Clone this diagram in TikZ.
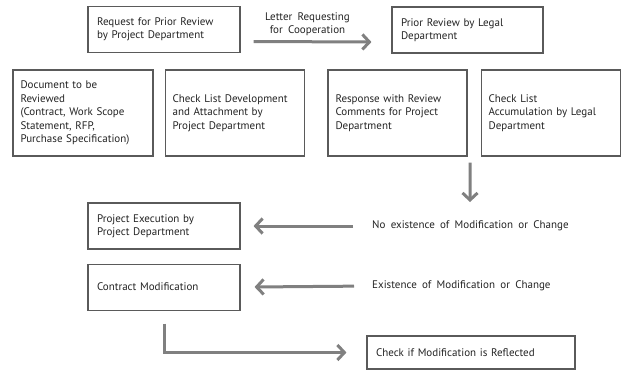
\documentclass[tikz,border=0pt]{standalone}
\usepackage{fontspec}
\setmainfont{PT Sans}[WordSpace=1.8]
\usetikzlibrary{arrows.meta,positioning}
\definecolor{boxline}{RGB}{90,90,90}
\definecolor{arrowgray}{RGB}{128,128,128}
\definecolor{txtdark}{RGB}{35,35,35}
\newcommand{\flowfont}{\fontsize{11}{13.4}\selectfont\hyphenpenalty=10000}
\tikzset{
  basebox/.style={rectangle,draw=boxline,line width=1.1pt,align=left,text=txtdark,
                  font=\flowfont,inner xsep=9pt,inner ysep=3pt},
  procbox/.style={basebox,minimum width=152pt,minimum height=46pt,text width=134pt},
  tallbox/.style={basebox,minimum width=139pt,minimum height=86pt,inner xsep=7.5pt,text width=124pt},
  condtext/.style={font=\flowfont,text=txtdark,inner sep=0pt,align=center},
  flowarr/.style={-{Straight Barb[length=7pt,width=15pt]},line width=3pt,color=arrowgray}
}

\begin{document}
\begin{tikzpicture}[x=1pt,y=-1pt]
  \useasboundingbox (0,0) rectangle (621,370);

  % top row
  \node[procbox] (req) at (164,29.5) {Request for Prior Review\\by Project Department};
  \node[procbox,minimum width=151pt,text width=133pt] (legal) at (467.5,30) {Prior Review by Legal\\Department};
  \node[condtext] (letter) at (307.5,24) {Letter Requesting\\for Cooperation};

  % second row
  \node[tallbox,minimum width=140pt,text width=125pt] (doc) at (83,113)
      {Document to be\\Reviewed\\(Contract, Work Scope\\Statement, RFP,\\Purchase Specification)};
  \node[tallbox,right=11pt of doc] (chk) {Check List Development\\and Attachment by\\Project Department};
  \node[tallbox] (resp) at (397.5,113) {Response with Review\\Comments for Project\\Department};
  \node[tallbox,right=13pt of resp] (accum) {Check List\\Accumulation by Legal\\Department};
  \coordinate (split) at (470,202);

  % decision rows
  \node[procbox] (exec) at (164,226) {Project Execution by\\Project Department};
  \node[procbox,below=14pt of exec] (mod) {Contract Modification};
  \node[condtext,anchor=west] (nochg) at (372,226) {No existence of Modification or Change};
  \node[condtext,anchor=west] (chg) at (372,286) {Existence of Modification or Change};
  \node[basebox,minimum width=208pt,minimum height=33pt,text width=190pt] (reflect) at (471,352.5)
      {Check if Modification is Reflected};

  \draw[flowarr] ([xshift=13pt,yshift=-12pt]req.east) -- ([xshift=-20pt,yshift=-12pt]legal.west);
  \draw[flowarr] ([xshift=2.5pt,yshift=-6pt]resp.south east) -- (split);
  \draw[flowarr,shorten <=19pt,shorten >=13pt] (nochg.west) -- (exec.east);
  \draw[flowarr,shorten <=18pt,shorten >=14pt] (chg.west) -- (mod.east);
  \draw[flowarr] ([yshift=-13pt]mod.south) |- ([xshift=-20pt]reflect.west);
\end{tikzpicture}
\end{document}
